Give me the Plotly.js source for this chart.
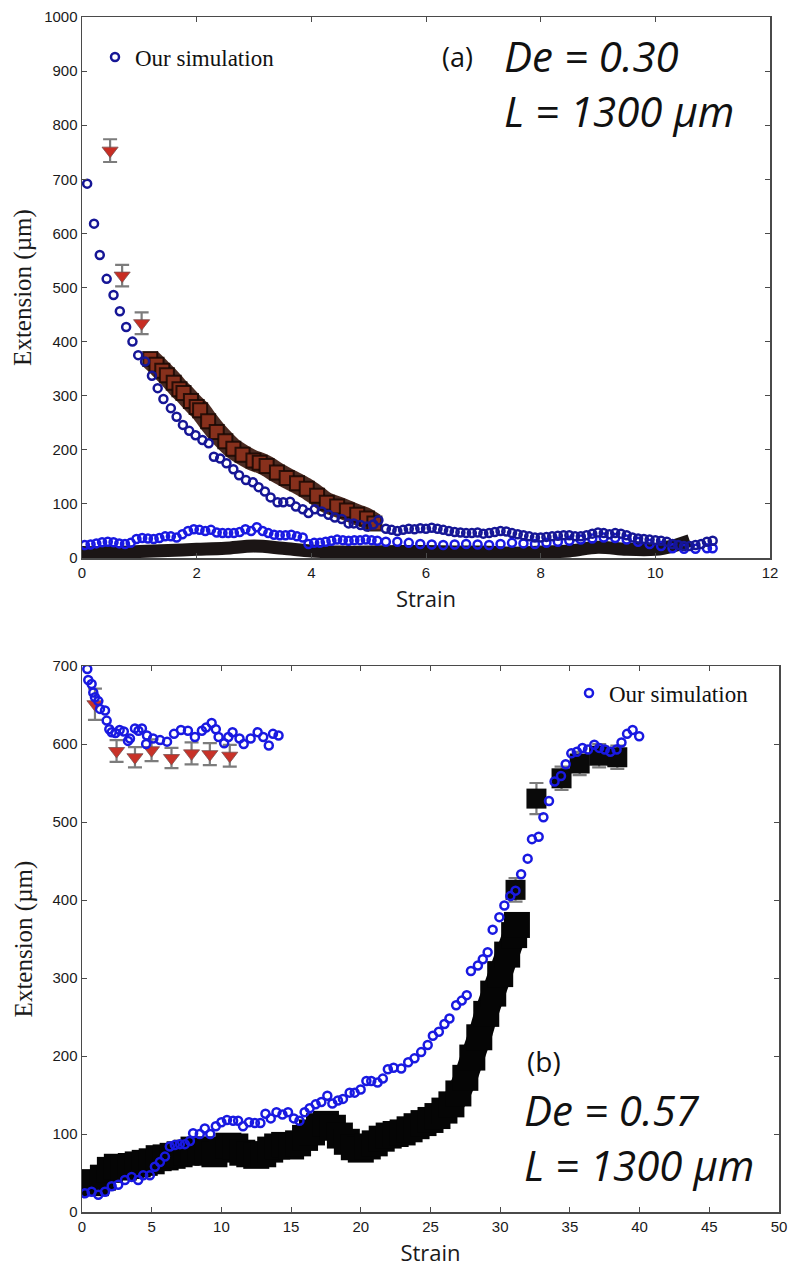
<!DOCTYPE html>
<html>
<head>
<meta charset="utf-8">
<script src="https://cdn.plot.ly/plotly-3.0.1.min.js"></script>
<style>html,body{margin:0;padding:0;background:#fff;}#chart{width:788px;height:1268px;}</style>
</head>
<body>
<div id="chart"></div>
<script>
// ---------------- Panel (a): De = 0.30 ----------------
const aSimDecayStrain = [0.09,0.21,0.31,0.43,0.55,0.66,0.77,0.88,0.98,1.1,1.22,1.32,1.42,1.55,1.65,1.76,1.87,1.98,2.10,2.21,2.30,2.41,2.52,2.64,2.74,2.86,2.98,3.08,3.19,3.29,3.41,3.51,3.63,3.73,3.85,3.95,4.06,4.18,4.30,4.41,4.53,4.65,4.74,4.86,4.97,5.08,5.17,5.3,5.4,5.5,5.6,5.7,5.8,5.9,6.0,6.1,6.2,6.3,6.4,6.5,6.6,6.7,6.8,6.9,7.0,7.1,7.2,7.3,7.4,7.5,7.6,7.7,7.8,7.9,8.0,8.1,8.2,8.3,8.4,8.5,8.6,8.7,8.8,8.9,9.0,9.1,9.2,9.3,9.4,9.5,9.6,9.7,9.8,9.9,10.0,10.1,10.2,10.3,10.4,10.5,10.6,10.7,10.8,10.9,11.0];
const aSimDecayExt = [692,618,560,516,486,456,427,400,375,363,337,314,294,277,261,246,235,227,218,212,187,184,175,164,153,144,140,131,123,112,103,103,104,95,90,83,90,86,80,75,72,64,64,61,58,62,70,54,52,50,52,54,53,55,54,56,54,52,50,48,47,46,46,47,45,46,48,50,49,46,44,42,40,38,38,39,40,41,42,42,40,40,42,45,47,46,44,46,45,42,38,36,35,34,33,32,30,26,24,22,22,24,26,30,32];
const aSimLowStrain = [0.05,0.15,0.25,0.35,0.45,0.55,0.65,0.75,0.85,0.95,1.05,1.15,1.25,1.35,1.45,1.55,1.65,1.75,1.85,1.95,2.05,2.15,2.25,2.35,2.45,2.55,2.65,2.75,2.85,2.95,3.05,3.15,3.25,3.35,3.45,3.55,3.65,3.75,3.85,3.95,4.05,4.15,4.25,4.35,4.45,4.55,4.65,4.75,4.85,4.95,5.05,5.15,5.3,5.5,5.7,5.9,6.1,6.3,6.5,6.7,6.9,7.1,7.3,7.5,7.7,7.9,8.1,8.3,8.5,8.7,8.9,9.1,9.3,9.5,9.7,9.9,10.1,10.3,10.5,10.7,10.9,11.0];
const aSimLowExt = [24,25,27,29,30,29,27,26,28,35,37,36,35,37,40,40,38,44,50,53,52,50,52,47,46,46,46,48,53,50,57,50,46,43,42,42,43,40,38,26,28,28,30,32,34,33,32,33,33,34,33,32,30,30,28,26,25,24,25,26,25,24,26,28,27,26,28,30,32,34,36,38,37,34,30,26,22,18,17,17,18,18];
const aExpBandStrain = [1.19,1.3,1.4,1.48,1.6,1.7,1.77,1.9,2.0,2.06,2.2,2.35,2.5,2.64,2.8,2.99,3.1,3.22,3.4,3.57,3.75,3.92,4.1,4.27,4.45,4.62,4.8,4.97,5.1];
const aExpBandExt = [368,357,346,338,324,312,305,290,279,273,253,233,216,202,191,180,176,170,158,148,138,128,115,102,95,88,80,73,64];
const aExpLowStrain = [0,0.5,1,1.5,2,2.5,3,3.5,4,4.5,5,5.5,6,6.5,7,7.5,8,8.5,9,9.5,10,10.3,10.6];
const aExpLowExt = [10,10,12,14,16,18,22,18,13,11,11,12,12,11,11,9,11,13,20,16,16,22,32];
const aExpPointStrain = [0.49,0.70,1.04];
const aExpPointExt = [753,522,434];
const aExpPointErr = [21,20,20];

// ---------------- Panel (b): De = 0.57 ----------------
const bSimHighStrain = [0.38,0.45,0.69,0.81,0.93,1.17,1.29,1.65,1.77,1.96,2.13,2.4,2.7,3.0,3.3,3.44,3.8,4.05,4.3,4.6,4.66,5.1,5.6,6.1,6.6,7.1,7.6,8.1,8.6,8.9,9.3,9.6,9.8,10.2,10.5,10.8,11.3,11.6,12.1,12.6,13.0,13.4,13.7,14.1];
const bSimHighExt = [696,682,677,666,660,655,645,643,630,619,615,614,618,616,604,607,620,617,620,600,611,607,605,603,613,618,617,609,617,621,627,619,609,601,609,615,607,600,607,615,609,598,613,611];
const bSimRiseStrain = [0.21,0.69,1.17,1.65,2.13,2.6,3.08,3.56,4.03,4.39,4.87,5.23,5.59,5.95,6.3,6.66,7.02,7.38,7.74,7.97,8.45,8.81,9.2,9.6,10.0,10.4,10.84,11.2,11.55,11.98,12.4,12.8,13.16,13.54,13.95,14.38,14.78,15.2,15.6,15.97,16.33,16.76,17.17,17.6,17.96,18.36,18.72,19.2,19.56,19.99,20.4,20.75,21.2,21.58,21.94,22.35,22.9,23.4,23.85,24.33,24.8,25.17,25.6,26.0,26.36,26.84,27.24,27.6,27.9,28.4,28.75,29.1,29.46,29.94,30.3,30.73,31.1,31.5,31.97,32.28,32.76,33.1,33.5,33.9,34.36,34.7,35.1,35.5,35.9,36.3,36.75,37.1,37.5,37.9,38.35,38.7,39.1,39.5,39.97];
const bSimRiseExt = [24,26,22,26,33,35,41,45,41,47,47,58,64,71,84,86,87,87,91,101,100,107,100,110,115,118,117,117,110,115,114,114,126,120,128,125,128,120,117,128,133,138,141,149,139,143,145,153,153,157,168,168,166,171,183,185,184,192,197,205,214,226,231,241,248,265,271,278,309,316,324,333,362,378,393,405,412,433,453,478,481,506,527,552,559,574,588,590,595,593,599,595,593,590,593,602,613,618,610];
const bExpBandStrain = [0,0.5,1,1.5,2,2.5,3,3.5,4,4.5,5,5.5,6,6.5,7,7.5,8,8.5,9,9.5,10,10.5,11,11.5,12,12.5,13,13.5,14,14.5,15,15.5,16,16.5,17,17.5,18,18.5,19,19.5,20,20.5,21,21.5,22,22.5,23,23.5,24,24.5,25,25.5,26,26.5,27,27.5,28,28.5,29,29.5,30,30.5,31,31.2];
const bExpBandExt = [38,38,37,44,54,58,57,59,61,63,65,69,70,72,74,76,80,80,76,74,80,85,84,76,74,72,74,80,84,86,84,88,95,102,110,113,108,98,90,83,80,84,88,94,98,100,102,106,110,114,118,123,130,138,152,172,198,224,254,280,305,330,355,368];
const bExpTriStrain = [0.93,2.48,3.80,4.99,6.42,7.86,9.17,10.6];
const bExpTriExt = [651,591,583,592,582,588,587,585];
const bExpTriErr = [20,14,13,14,13,14,14,14];
const bExpBlobStrain = [31.1,32.6,34.4,35.7,37.1,38.4];
const bExpBlobExt = [413,530,556,575,585,583];
const bExpBlobErr = [15,20,15,15,15,15];

const xTicksA = [0,2,4,6,8,10,12];
const yTicksA = [0,100,200,300,400,500,600,700,800,900,1000];
const xTicksB = [0,5,10,15,20,25,30,35,40,45,50];
const yTicksB = [0,100,200,300,400,500,600,700];

const legendName = 'Our simulation';
const xTitle = 'Strain';
const yTitle = 'Extension (µm)';

// ---------------- styles ----------------
const navy = 'rgb(22,22,150)';
const blue = 'rgb(25,25,225)';
const errStyle = {type:'data', visible:true, color:'rgba(110,110,110,0.9)', thickness:2.2, width:7};

const traces = [
  // panel a
  {x:aExpLowStrain, y:aExpLowExt, xaxis:'x', yaxis:'y', mode:'lines', line:{color:'rgba(15,8,8,0.95)', width:13, shape:'spline', smoothing:1}, showlegend:false, hoverinfo:'skip'},
  {x:aExpBandStrain, y:aExpBandExt, xaxis:'x', yaxis:'y', mode:'lines+markers', line:{color:'rgba(55,20,10,0.9)', width:21, shape:'spline', smoothing:0.8},
   marker:{symbol:'square', size:14, color:'rgb(135,48,28)', line:{color:'rgba(25,8,4,0.85)', width:2}}, showlegend:false},
  {x:aExpPointStrain, y:aExpPointExt, xaxis:'x', yaxis:'y', mode:'markers',
   marker:{symbol:'triangle-down', size:14, color:'rgb(200,45,35)', line:{color:'rgba(120,80,80,0.8)', width:1}},
   error_y:Object.assign({array:aExpPointErr}, errStyle), showlegend:false},
  {x:aSimLowStrain, y:aSimLowExt, xaxis:'x', yaxis:'y', mode:'markers',
   marker:{symbol:'circle-open', size:8, color:blue, line:{color:blue, width:2.5}}, showlegend:false},
  {x:aSimDecayStrain, y:aSimDecayExt, xaxis:'x', yaxis:'y', mode:'markers', name:legendName, legend:'legend',
   marker:{symbol:'circle-open', size:8, color:navy, line:{color:navy, width:2.5}}, showlegend:true},
  // panel b
  {x:bExpBandStrain, y:bExpBandExt, xaxis:'x2', yaxis:'y2', mode:'lines+markers', line:{color:'rgb(5,5,5)', width:24, shape:'spline', smoothing:1},
   marker:{symbol:'square', size:26, color:'rgb(5,5,5)'}, showlegend:false},
  {x:bExpBlobStrain, y:bExpBlobExt, xaxis:'x2', yaxis:'y2', mode:'markers',
   marker:{symbol:'square', size:20, color:'rgb(10,10,10)'}, error_y:Object.assign({array:bExpBlobErr}, errStyle), showlegend:false},
  {x:bExpTriStrain, y:bExpTriExt, xaxis:'x2', yaxis:'y2', mode:'markers',
   marker:{symbol:'triangle-down', size:14, color:'rgb(200,50,40)', line:{color:'rgba(120,80,80,0.8)', width:1}},
   error_y:Object.assign({array:bExpTriErr}, errStyle), showlegend:false},
  {x:bSimHighStrain, y:bSimHighExt, xaxis:'x2', yaxis:'y2', mode:'markers',
   marker:{symbol:'circle-open', size:8, color:blue, line:{color:blue, width:2.5}}, showlegend:false},
  {x:bSimRiseStrain, y:bSimRiseExt, xaxis:'x2', yaxis:'y2', mode:'markers', name:legendName, legend:'legend2',
   marker:{symbol:'circle-open', size:8, color:blue, line:{color:blue, width:2.5}}, showlegend:true}
];

const tickFont = {family:'Liberation Sans, Arial, sans-serif', size:15, color:'#1a1a1a'};
const xTitleFont = {family:'Open Sans, sans-serif', size:22, color:'#1a1a1a'};
const yTitleFont = {family:'Liberation Serif, Times New Roman, serif', size:25, color:'#1a1a1a'};
function axisBase() {
  return {showline:true, linecolor:'#4a4a4a', linewidth:1.5, mirror:'ticks', ticks:'inside', ticklen:5, tickwidth:1,
    tickcolor:'#4a4a4a', showgrid:false, zeroline:false, tickfont:tickFont, fixedrange:true};
}

// pixel geometry helpers -> paper coords
const L = 82, R = 9, T = 17, B = 56, W = 788, H = 1268;
const pw = W - L - R, ph = H - T - B;
const px = v => (v - L) / pw;
const py = v => (H - B - v) / ph;

const layout = {
  width: W, height: H,
  margin: {l:L, r:R, t:T, b:B},
  paper_bgcolor:'#fff', plot_bgcolor:'#fff',
  showlegend: true,
  xaxis: Object.assign(axisBase(), {domain:[0, px(770)], anchor:'y', range:[0,12], tickvals:xTicksA,
    title:{text:xTitle, font:xTitleFont, standoff:12}}),
  yaxis: Object.assign(axisBase(), {domain:[py(558), 1], anchor:'x', range:[0,1000], tickvals:yTicksA,
    title:{text:yTitle, font:yTitleFont, standoff:5}}),
  xaxis2: Object.assign(axisBase(), {domain:[0, 1], anchor:'y2', range:[0,50], tickvals:xTicksB,
    title:{text:xTitle, font:xTitleFont, standoff:12}}),
  yaxis2: Object.assign(axisBase(), {domain:[0, py(666)], anchor:'x2', range:[0,700], tickvals:yTicksB,
    title:{text:yTitle, font:yTitleFont, standoff:12}}),
  legend: {x:px(95), y:py(57), xanchor:'left', yanchor:'middle', bgcolor:'rgba(0,0,0,0)',
    font:{family:'Liberation Serif, Times New Roman, serif', size:23, color:'#111'}},
  legend2: {x:px(569), y:py(693), xanchor:'left', yanchor:'middle', bgcolor:'rgba(0,0,0,0)',
    font:{family:'Liberation Serif, Times New Roman, serif', size:23, color:'#111'}},
  annotations: [
    {text:'(a)', xref:'paper', yref:'paper', x:px(440), y:py(57), xanchor:'left', yanchor:'middle', showarrow:false,
     font:{family:'Open Sans, sans-serif', size:27, color:'#111'}},
    {text:'<i>De = 0.30</i><br><i>L = 1300 µm</i>', xref:'paper', yref:'paper', x:px(502), y:py(83), xanchor:'left', yanchor:'middle', align:'left', showarrow:false,
     font:{family:'Open Sans, sans-serif', size:42, color:'#111'}},
    {text:'(b)', xref:'paper', yref:'paper', x:px(525), y:py(1061), xanchor:'left', yanchor:'middle', showarrow:false,
     font:{family:'Open Sans, sans-serif', size:28, color:'#111'}},
    {text:'<i>De = 0.57</i><br><i>L = 1300 µm</i>', xref:'paper', yref:'paper', x:px(522), y:py(1137), xanchor:'left', yanchor:'middle', align:'left', showarrow:false,
     font:{family:'Open Sans, sans-serif', size:42, color:'#111'}}
  ]
};

Plotly.newPlot('chart', traces, layout, {staticPlot:true, displayModeBar:false});
</script>
</body>
</html>
